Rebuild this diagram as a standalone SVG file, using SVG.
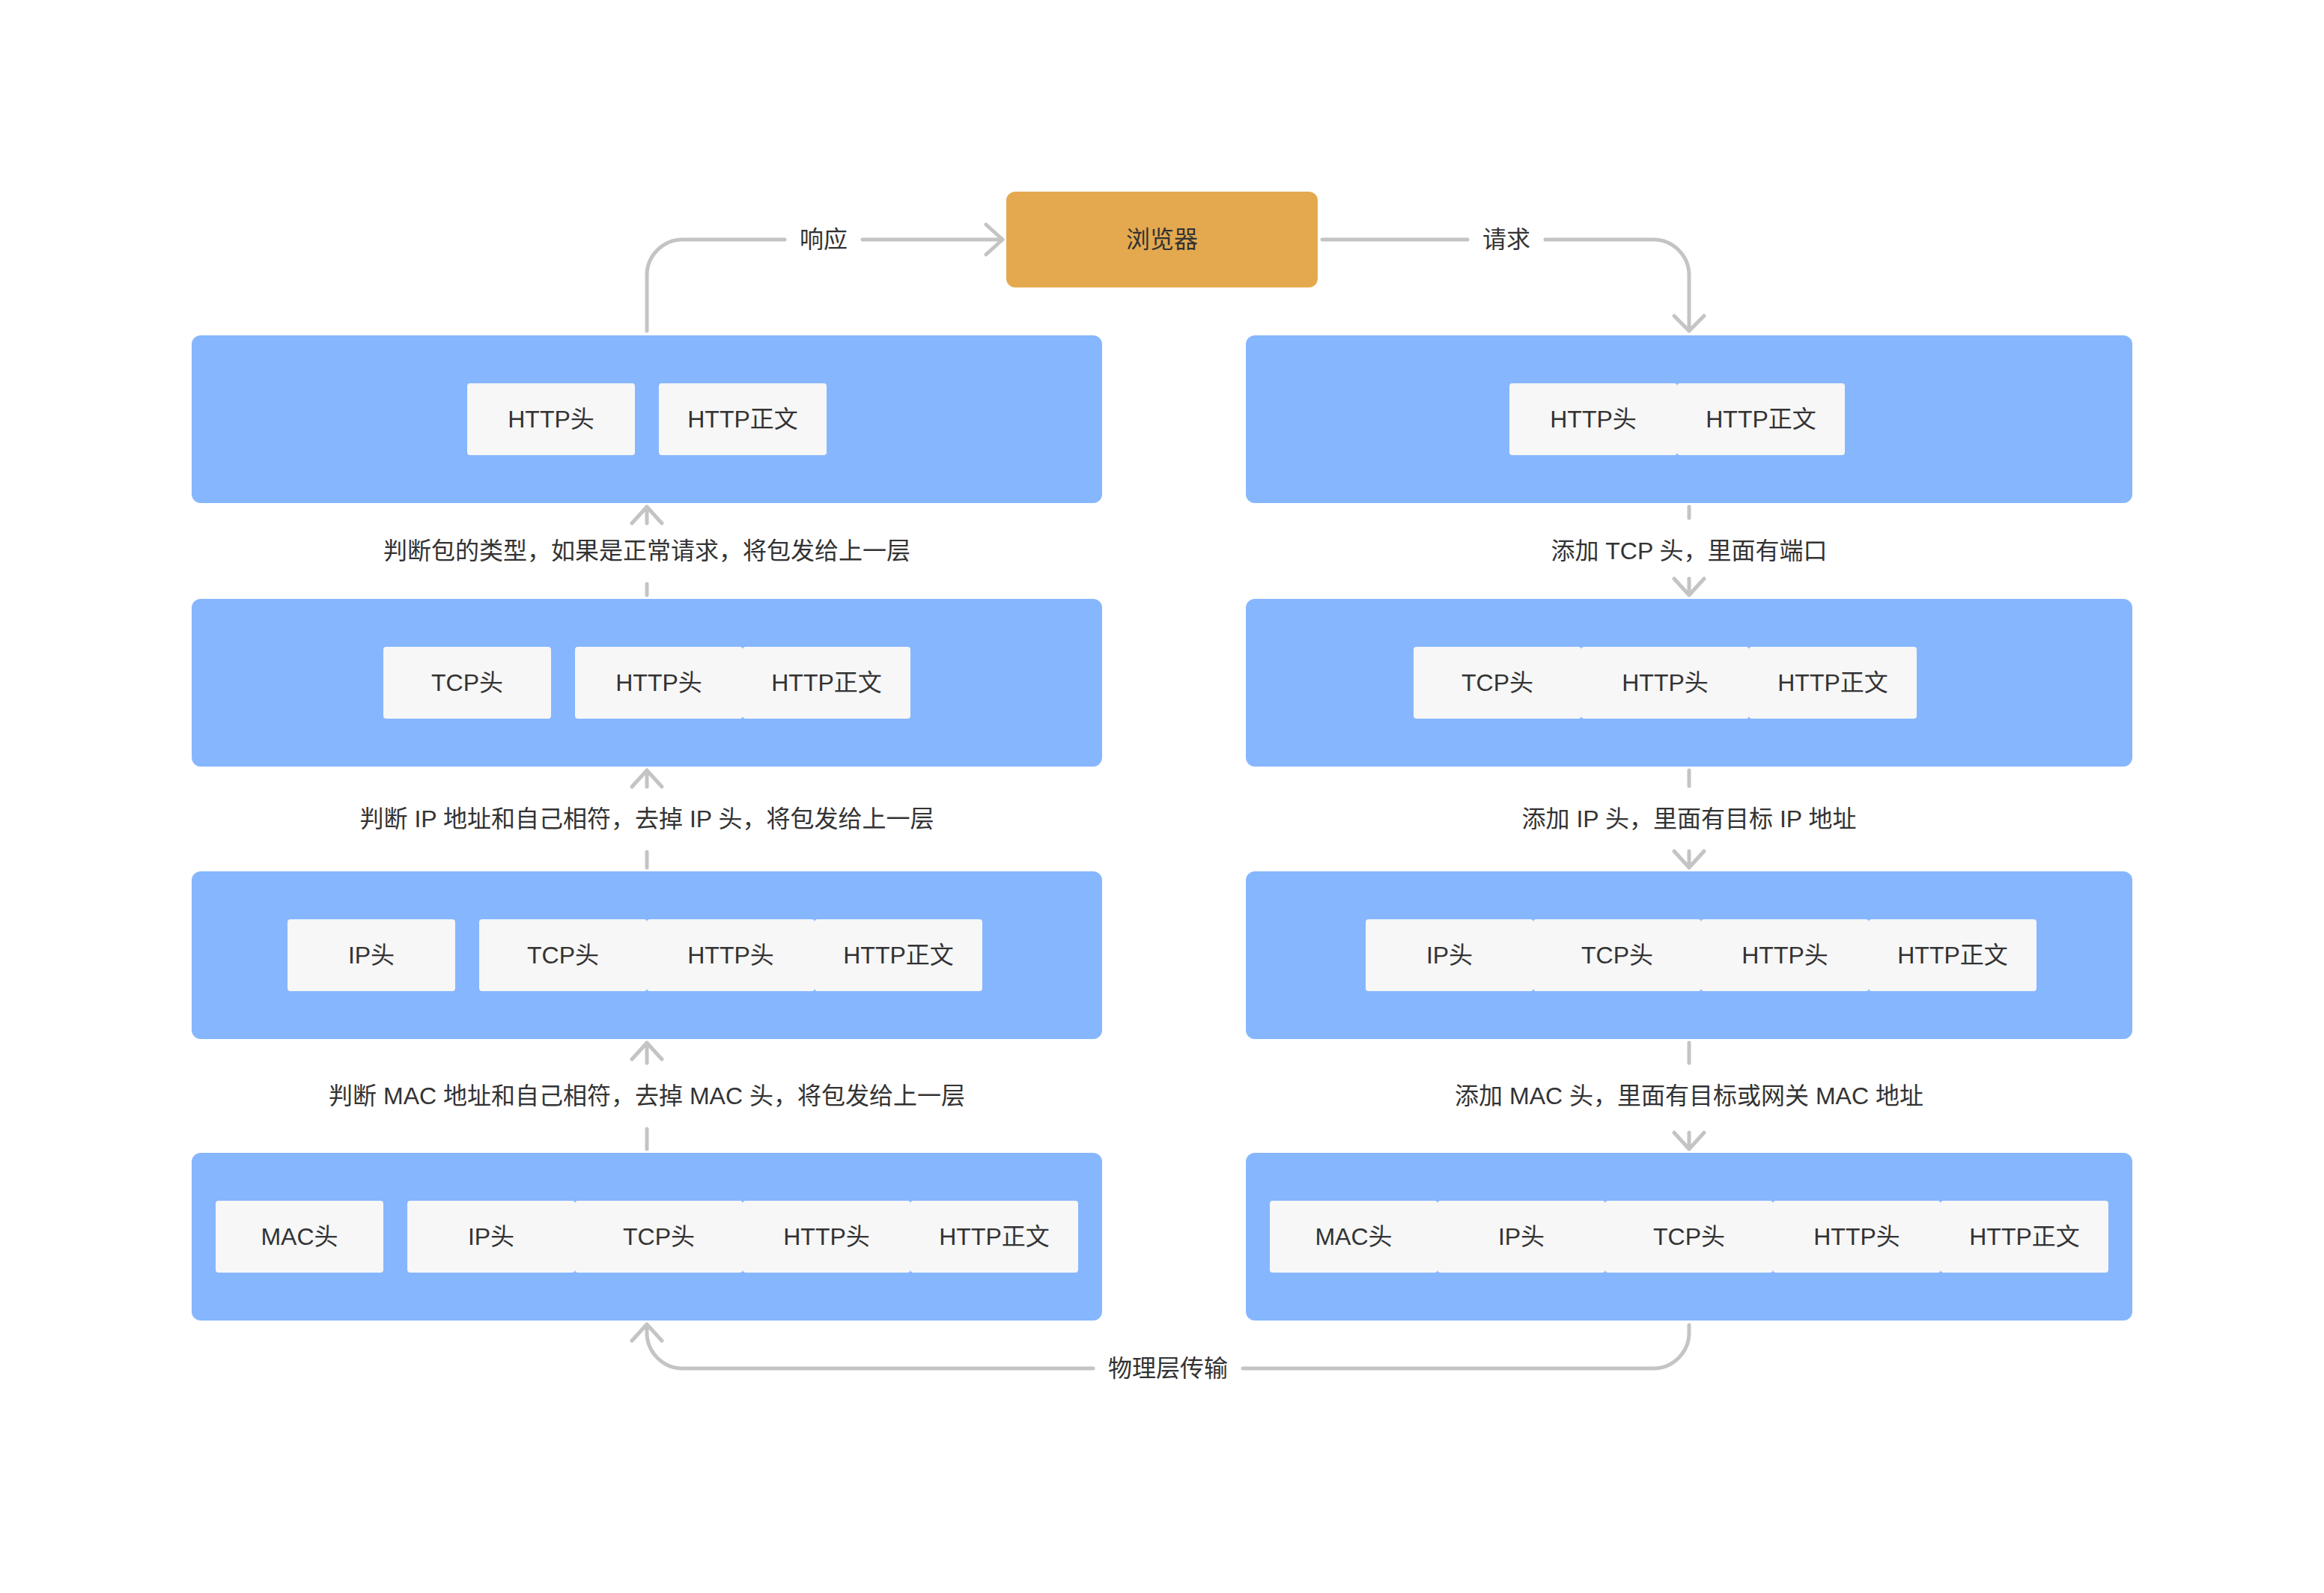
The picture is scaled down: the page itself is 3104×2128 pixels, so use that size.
<svg xmlns="http://www.w3.org/2000/svg" width="3104" height="2128" viewBox="0 0 3104 2128">
  <style>
    .layer { fill: #86B6FE; }
    .cell { fill: #F7F7F7; }
    .browser { fill: #E4A94F; }
    .t { font-family: "Liberation Sans", "Noto Sans CJK SC", sans-serif; font-size: 32px; fill: #333333; text-anchor: middle; }
    .line { fill: none; stroke: #C4C4C4; stroke-width: 5; stroke-linecap: round; stroke-linejoin: round; }
  </style>
  <rect width="3104" height="2128" fill="#FFFFFF"/>

  <!-- browser -->
  <g id="browser">
    <rect class="browser" x="1344" y="256" width="416" height="128" rx="12"/>
    <text class="t" x="1552" y="331">浏览器</text>
  </g>

  <!-- receiving stack (left) -->
  <g id="recv-http">
    <rect class="layer" x="256" y="448" width="1216" height="224" rx="12"/>
    <rect class="cell" x="624" y="512" width="224" height="96" rx="4"/>
    <text class="t" x="736" y="571">HTTP头</text>
    <rect class="cell" x="880" y="512" width="224" height="96" rx="4"/>
    <text class="t" x="992" y="571">HTTP正文</text>
  </g>
  <g id="recv-tcp">
    <rect class="layer" x="256" y="800" width="1216" height="224" rx="12"/>
    <rect class="cell" x="512" y="864" width="224" height="96" rx="4"/>
    <text class="t" x="624" y="923">TCP头</text>
    <rect class="cell" x="768" y="864" width="224" height="96" rx="4"/>
    <text class="t" x="880" y="923">HTTP头</text>
    <rect class="cell" x="992" y="864" width="224" height="96" rx="4"/>
    <text class="t" x="1104" y="923">HTTP正文</text>
  </g>
  <g id="recv-ip">
    <rect class="layer" x="256" y="1164" width="1216" height="224" rx="12"/>
    <rect class="cell" x="384" y="1228" width="224" height="96" rx="4"/>
    <text class="t" x="496" y="1287">IP头</text>
    <rect class="cell" x="640" y="1228" width="224" height="96" rx="4"/>
    <text class="t" x="752" y="1287">TCP头</text>
    <rect class="cell" x="864" y="1228" width="224" height="96" rx="4"/>
    <text class="t" x="976" y="1287">HTTP头</text>
    <rect class="cell" x="1088" y="1228" width="224" height="96" rx="4"/>
    <text class="t" x="1200" y="1287">HTTP正文</text>
  </g>
  <g id="recv-mac">
    <rect class="layer" x="256" y="1540" width="1216" height="224" rx="12"/>
    <rect class="cell" x="288" y="1604" width="224" height="96" rx="4"/>
    <text class="t" x="400" y="1663">MAC头</text>
    <rect class="cell" x="544" y="1604" width="224" height="96" rx="4"/>
    <text class="t" x="656" y="1663">IP头</text>
    <rect class="cell" x="768" y="1604" width="224" height="96" rx="4"/>
    <text class="t" x="880" y="1663">TCP头</text>
    <rect class="cell" x="992" y="1604" width="224" height="96" rx="4"/>
    <text class="t" x="1104" y="1663">HTTP头</text>
    <rect class="cell" x="1216" y="1604" width="224" height="96" rx="4"/>
    <text class="t" x="1328" y="1663">HTTP正文</text>
  </g>

  <!-- sending stack (right) -->
  <g id="send-http">
    <rect class="layer" x="1664" y="448" width="1184" height="224" rx="12"/>
    <rect class="cell" x="2016" y="512" width="224" height="96" rx="4"/>
    <text class="t" x="2128" y="571">HTTP头</text>
    <rect class="cell" x="2240" y="512" width="224" height="96" rx="4"/>
    <text class="t" x="2352" y="571">HTTP正文</text>
  </g>
  <g id="send-tcp">
    <rect class="layer" x="1664" y="800" width="1184" height="224" rx="12"/>
    <rect class="cell" x="1888" y="864" width="224" height="96" rx="4"/>
    <text class="t" x="2000" y="923">TCP头</text>
    <rect class="cell" x="2112" y="864" width="224" height="96" rx="4"/>
    <text class="t" x="2224" y="923">HTTP头</text>
    <rect class="cell" x="2336" y="864" width="224" height="96" rx="4"/>
    <text class="t" x="2448" y="923">HTTP正文</text>
  </g>
  <g id="send-ip">
    <rect class="layer" x="1664" y="1164" width="1184" height="224" rx="12"/>
    <rect class="cell" x="1824" y="1228" width="224" height="96" rx="4"/>
    <text class="t" x="1936" y="1287">IP头</text>
    <rect class="cell" x="2048" y="1228" width="224" height="96" rx="4"/>
    <text class="t" x="2160" y="1287">TCP头</text>
    <rect class="cell" x="2272" y="1228" width="224" height="96" rx="4"/>
    <text class="t" x="2384" y="1287">HTTP头</text>
    <rect class="cell" x="2496" y="1228" width="224" height="96" rx="4"/>
    <text class="t" x="2608" y="1287">HTTP正文</text>
  </g>
  <g id="send-mac">
    <rect class="layer" x="1664" y="1540" width="1184" height="224" rx="12"/>
    <rect class="cell" x="1696" y="1604" width="224" height="96" rx="4"/>
    <text class="t" x="1808" y="1663">MAC头</text>
    <rect class="cell" x="1920" y="1604" width="224" height="96" rx="4"/>
    <text class="t" x="2032" y="1663">IP头</text>
    <rect class="cell" x="2144" y="1604" width="224" height="96" rx="4"/>
    <text class="t" x="2256" y="1663">TCP头</text>
    <rect class="cell" x="2368" y="1604" width="224" height="96" rx="4"/>
    <text class="t" x="2480" y="1663">HTTP头</text>
    <rect class="cell" x="2592" y="1604" width="224" height="96" rx="4"/>
    <text class="t" x="2704" y="1663">HTTP正文</text>
  </g>

  <!-- connectors -->
  <g id="connectors">
    <!-- response: receiving stack to browser -->
    <path class="line" d="M864,442 V368 A48,48 0 0 1 912,320 H1048"/>
    <path class="line" d="M1152,320 H1339 M1317,300 L1339,320 L1317,340"/>
    <text class="t" x="1100" y="331">响应</text>

    <!-- request: browser to sending stack -->
    <path class="line" d="M1766,320 H1960"/>
    <path class="line" d="M2064,320 H2208 A48,48 0 0 1 2256,368 V442 M2236,422 L2256,442 L2276,422"/>
    <text class="t" x="2012" y="331">请求</text>

    <!-- receiving stack, upward -->
    <path class="line" d="M864,795 V780 M864,677 V699 M844,699 L864,677 L884,699"/>
    <text class="t" x="864" y="747">判断包的类型，如果是正常请求，将包发给上一层</text>
    <path class="line" d="M864,1159 V1138 M864,1029 V1051 M844,1051 L864,1029 L884,1051"/>
    <text class="t" x="864" y="1105">判断 IP 地址和自己相符，去掉 IP 头，将包发给上一层</text>
    <path class="line" d="M864,1535 V1508 M864,1393 V1420 M844,1415 L864,1393 L884,1415"/>
    <text class="t" x="864" y="1475">判断 MAC 地址和自己相符，去掉 MAC 头，将包发给上一层</text>

    <!-- sending stack, downward -->
    <path class="line" d="M2256,677 V692 M2256,773 V795 M2236,773 L2256,795 L2276,773"/>
    <text class="t" x="2256" y="747">添加 TCP 头，里面有端口</text>
    <path class="line" d="M2256,1029 V1050 M2256,1137 V1159 M2236,1137 L2256,1159 L2276,1137"/>
    <text class="t" x="2256" y="1105">添加 IP 头，里面有目标 IP 地址</text>
    <path class="line" d="M2256,1393 V1420 M2256,1513 V1535 M2236,1513 L2256,1535 L2276,1513"/>
    <text class="t" x="2256" y="1475">添加 MAC 头，里面有目标或网关 MAC 地址</text>

    <!-- physical link between the two stacks -->
    <path class="line" d="M2256,1770 V1780 A48,48 0 0 1 2208,1828 H1660"/>
    <path class="line" d="M1460,1828 H912 A48,48 0 0 1 864,1780 V1769 M844,1791 L864,1769 L884,1791"/>
    <text class="t" x="1560" y="1839">物理层传输</text>
  </g>
</svg>
